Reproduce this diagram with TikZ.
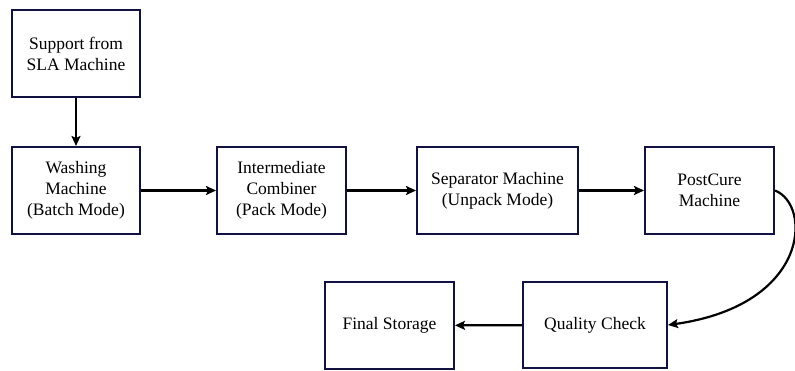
\documentclass[tikz,border=0pt]{standalone}
\usepackage{fontspec}
\setmainfont{Liberation Serif}
\usetikzlibrary{arrows.meta}
\definecolor{boxline}{RGB}{18,18,66}
\tikzset{
  box/.style={draw=boxline, line width=2pt, fill=white, minimum width=#1, minimum height=87pt, inner sep=2pt, align=center, font=\fontsize{17.5pt}{21pt}\selectfont},
  conn/.style={line width=2.2pt, -{Stealth[length=10pt,width=9pt,inset=2pt]}}
}
\begin{document}
\begin{tikzpicture}[x=1pt,y=-1pt]
\useasboundingbox (0,0) rectangle (795,370);
\node[box=128pt] (sup) at (76,53.5) {Support from\\SLA Machine};
\node[box=128pt] (wash) at (76,190.5) {Washing\\Machine\\(Batch Mode)};
\node[box=129pt] (comb) at (281.5,190.5) {Intermediate\\Combiner\\(Pack Mode)};
\node[box=161pt] (sep) at (497.5,190.5) {Separator Machine\\(Unpack Mode)};
\node[box=129pt] (post) at (709.5,190.5) {PostCure\\Machine};
\node[box=144pt, minimum height=86pt] (qc) at (595,325) {Quality Check};
\node[box=129pt] (fin) at (389.5,325.5) {Final Storage};
\draw[conn] (sup) -- (wash);
\draw[conn] (wash) -- (comb);
\draw[conn] (comb) -- (sep);
\draw[conn] (sep) -- (post);
\draw[conn] (post.east) .. controls (812,205) and (810,305) .. (qc.east);
\draw[conn] (qc) -- (fin);
\end{tikzpicture}
\end{document}
